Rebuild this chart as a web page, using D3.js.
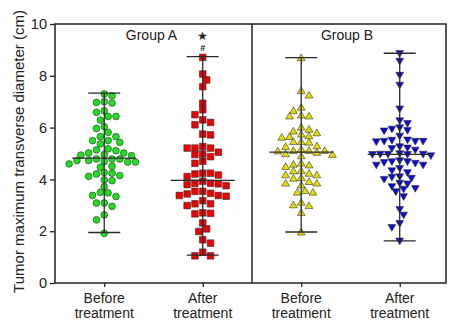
<!DOCTYPE html>
<html>
<head>
<meta charset="utf-8">
<script src="https://cdn.jsdelivr.net/npm/d3@7"></script>
<style>
  body { margin: 0; background: #fff; }
  svg text { font-family: "Liberation Sans", Arial, sans-serif; fill: #222; }
</style>
</head>
<body>
<div id="chart"></div>
<script>
const categories = ["Before|treatment", "After|treatment", "Before|treatment", "After|treatment"];
const groupNames = ["Group A", "Group B"];
const yTicks = [0, 2, 4, 6, 8, 10];

// tumor diameters (cm) per column
const beforeA = [7.33, 7.26, 7.03, 7.00, 6.98, 6.68, 6.62, 6.46, 6.46, 6.32, 6.07, 6.00, 5.85, 5.68, 5.68,
  5.53, 5.53, 5.46, 5.40, 5.21, 5.17, 5.14, 5.05, 5.05, 4.99, 4.97, 4.95, 4.82, 4.82, 4.82, 4.76, 4.76,
  4.72, 4.70, 4.70, 4.63, 4.54, 4.50, 4.30, 4.27, 4.24, 4.18, 4.15, 4.01, 3.98, 3.75, 3.53,
  3.51, 3.41, 3.37, 3.12, 3.12, 2.99, 2.66, 2.47, 1.95];
const afterA = [8.74, 8.10, 7.87, 7.61, 6.97, 6.72, 6.53, 6.33, 6.23, 6.14, 5.78, 5.75, 5.30, 5.24, 5.24,
  5.24, 5.08, 5.01, 4.99, 4.91, 4.73, 4.65, 4.27, 4.27, 4.24, 4.20, 4.14, 3.96, 3.88, 3.88, 3.86, 3.83,
  3.79, 3.57, 3.57, 3.49, 3.47, 3.41, 3.41, 3.38, 3.21, 3.09, 3.09, 3.02, 2.74, 2.72, 2.70, 2.35, 2.12,
  2.02, 1.70, 1.57, 1.22, 1.08, 1.08];
const beforeB = [8.70, 7.43, 7.26, 6.79, 6.66, 6.49, 6.45, 6.45, 6.02, 5.94, 5.87, 5.80, 5.75, 5.69, 5.66,
  5.63, 5.46, 5.46, 5.44, 5.30, 5.27, 5.17, 5.12, 5.12, 5.12, 5.10, 5.05, 4.99, 4.97, 4.91,
  4.63, 4.59, 4.56, 4.50, 4.34, 4.33, 4.24, 4.18, 4.18, 4.07, 4.05, 3.92, 3.86, 3.86, 3.79, 3.57,
  3.51, 3.51, 3.12, 3.02, 2.99, 2.72, 1.97];
const afterB = [8.87, 8.57, 8.03, 7.65, 6.73, 6.27, 6.17, 6.00, 5.95, 5.90, 5.88, 5.68, 5.53, 5.52, 5.48,
  5.48, 5.48, 5.46, 5.27, 5.22, 5.20, 5.14, 5.00, 4.98, 4.98, 4.98, 4.97, 4.97, 4.92, 4.73, 4.69,
  4.69, 4.66, 4.63, 4.56, 4.56, 4.43, 4.34, 4.27, 4.11, 4.09, 4.05, 4.01, 3.86, 3.83, 3.73, 3.66,
  3.63, 3.53, 3.34, 2.85, 2.63, 2.31, 2.15, 1.63];

const series = [
  { values: beforeA, shape: d3.symbolCircle, size: 36, fill: "#1ee01e" },
  { values: afterA, shape: d3.symbolSquare, size: 44, fill: "#ee0000" },
  { values: beforeB, shape: d3.symbolTriangle, size: 26, fill: "#e6dc00" },
  { values: afterB, shape: d3.symbolTriangle, size: 26, fill: "#0a0ad2", flip: true }
];

const width = 468, height = 331;
const margin = { top: 24, right: 22, bottom: 48, left: 55 };

const svg = d3.select("#chart").append("svg")
  .attr("width", width)
  .attr("height", height);

const x = d3.scaleLinear().domain([0.5, 4.47]).range([margin.left, width - margin.right]);
const y = d3.scaleLinear().domain([0, 10]).range([height - margin.bottom, margin.top]);

// simple beeswarm: offsets in half-diameter steps, nearest free slot wins
function swarm(values, step, diam) {
  const placed = [];
  const sorted = values.slice().sort((a, b) => b - a);
  let flipSide = 1;
  sorted.forEach((v) => {
    const py = y(v);
    for (let k = 0; k < 40; k++) {
      const cands = k === 0 ? [0] : [k * step * flipSide, -k * step * flipSide];
      const hit = cands.find((dx) =>
        placed.every((p) => Math.hypot(p.dx - dx, p.py - py) >= diam));
      if (hit !== undefined) {
        placed.push({ v, dx: hit, py });
        if (hit !== 0) flipSide = -flipSide;
        break;
      }
    }
  });
  return placed;
}

series.forEach((s, i) => {
  const cx = x(i + 1);
  const pts = swarm(s.values, 3.9, 6.3);
  const sym = d3.symbol().type(s.shape).size(s.size);

  svg.append("g")
    .selectAll("path")
    .data(pts)
    .enter()
    .append("path")
    .attr("d", sym)
    .attr("transform", (d) => `translate(${cx + d.dx},${d.py + (s.flip ? -0.5 : 0.8)})${s.flip ? " rotate(180)" : ""}`)
    .attr("fill", s.fill)
    .attr("stroke", "#333")
    .attr("stroke-width", 0.6);

  const lo = d3.min(s.values), hi = d3.max(s.values), med = d3.median(s.values);
  const g = svg.append("g").attr("stroke", "#2a2a2a").attr("stroke-width", 1.3);
  g.append("line").attr("x1", cx).attr("x2", cx).attr("y1", y(lo)).attr("y2", y(hi));
  [lo, hi].forEach((v) => {
    g.append("line").attr("x1", cx - 16).attr("x2", cx + 16).attr("y1", y(v)).attr("y2", y(v));
  });
  g.append("line").attr("x1", cx - 32).attr("x2", cx + 32).attr("y1", y(med)).attr("y2", y(med));
});

// frame and group divider
svg.append("rect")
  .attr("x", x(0.5)).attr("y", y(10))
  .attr("width", x(4.47) - x(0.5)).attr("height", y(0) - y(10))
  .attr("fill", "none").attr("stroke", "#222").attr("stroke-width", 1.5);
svg.append("line")
  .attr("x1", x(2.5)).attr("x2", x(2.5)).attr("y1", y(10)).attr("y2", y(0))
  .attr("stroke", "#222").attr("stroke-width", 1.5);

const yAxis = svg.append("g")
  .attr("transform", `translate(${margin.left},0)`)
  .call(d3.axisLeft(y).tickValues(yTicks).tickSize(5).tickPadding(3));
yAxis.select(".domain").remove();
yAxis.selectAll("line").attr("stroke", "#222").attr("stroke-width", 1.3);
yAxis.selectAll("text").style("font-size", "14.5px").attr("fill", "#222");

const xAxis = svg.append("g")
  .attr("transform", `translate(0,${y(0)})`)
  .call(d3.axisBottom(x).tickValues([1, 2, 3, 4]).tickSize(4).tickFormat(""));
xAxis.select(".domain").remove();
xAxis.selectAll("line").attr("stroke", "#222").attr("stroke-width", 1.3);

categories.forEach((c, i) => {
  const t = svg.append("text")
    .attr("x", x(i + 1))
    .attr("y", 303)
    .attr("text-anchor", "middle")
    .style("font-size", "14px");
  c.split("|").forEach((line, j) => {
    t.append("tspan").attr("x", x(i + 1)).attr("dy", j === 0 ? 0 : 15).text(line);
  });
});

groupNames.forEach((name, i) => {
  svg.append("text")
    .attr("x", i === 0 ? 151.5 : 347)
    .attr("y", 40)
    .attr("text-anchor", "middle")
    .style("font-size", "14px")
    .text(name);
});

// significance marks over After treatment, Group A
svg.append("text")
  .attr("x", x(2)).attr("y", 40)
  .attr("text-anchor", "middle")
  .style("font-size", "12px")
  .text("★");
svg.append("text")
  .attr("x", x(2)).attr("y", 51)
  .attr("text-anchor", "middle")
  .style("font-size", "9px")
  .style("font-weight", "bold")
  .text("#");

svg.append("text")
  .attr("transform", `translate(24,${(y(0) + y(10)) / 2 - 2}) rotate(-90)`)
  .attr("text-anchor", "middle")
  .style("font-size", "15px")
  .text("Tumor maximum transverse diameter (cm)");
</script>
</body>
</html>
